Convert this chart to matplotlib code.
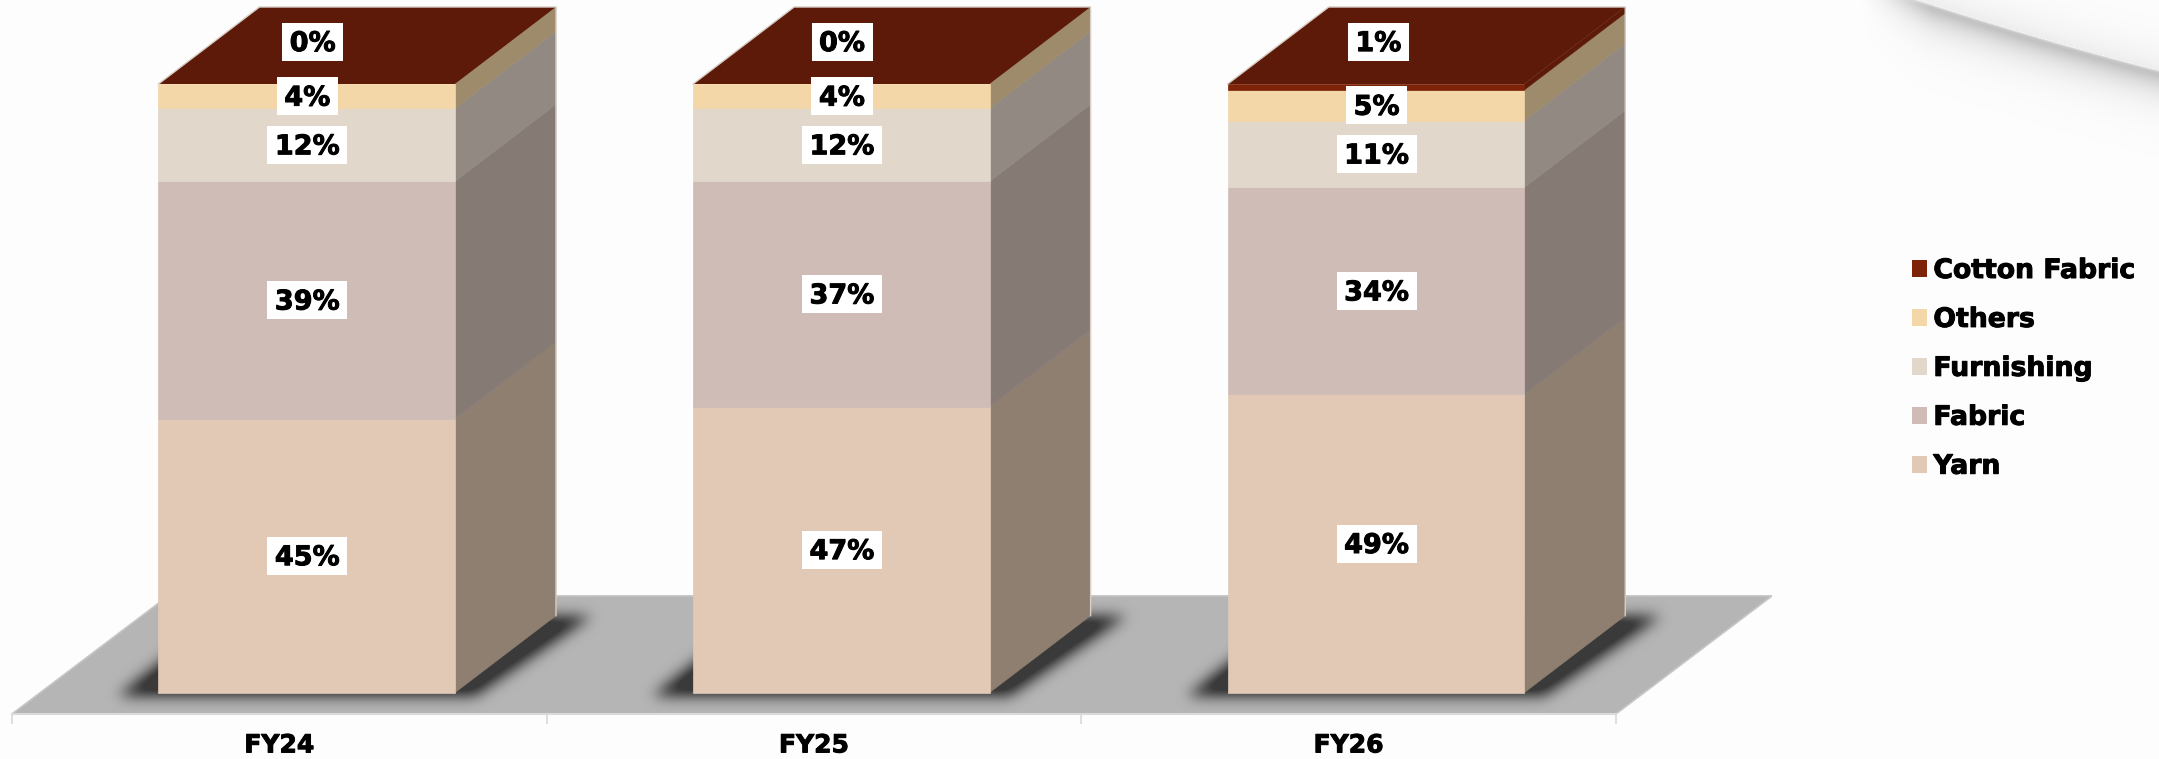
import matplotlib
matplotlib.use('Agg')
import matplotlib.pyplot as plt
import matplotlib.patheffects as pe
import numpy as np
from matplotlib.patches import Patch, Polygon, Rectangle
from matplotlib.path import Path

W, H = 2159, 759

years = ['FY24', 'FY25', 'FY26']
series = ['Yarn', 'Fabric', 'Furnishing', 'Others', 'Cotton Fabric']
yarn = [45, 47, 49]
fabric = [39, 37, 34]
furnishing = [12, 12, 11]
others = [4, 4, 5]
cotton = [0, 0, 1]
stack = np.array([yarn, fabric, furnishing, others, cotton], dtype=float)

front_colors = ['#E2C9B6', '#D0BCB6', '#E1D7CB', '#F3D7A8', '#7C2308']
side_colors = ['#8F7F70', '#857A74', '#928A82', '#9D8B6C', '#5E1A08']
top_color = '#5E1A08'

# box projection, in axis units
bar_width = 0.5546
bar_shift = 0.0512
depth_x = 0.189
depth_y = 12.65
floor_front = -3.5
floor_dx = 0.292
floor_dy = 19.4

plt.rcParams.update({
    'font.family': 'DejaVu Sans',
    'font.weight': 'bold',
    'font.size': 18,
})
heavy = [pe.withStroke(linewidth=0.7, foreground='black')]

fig = plt.figure(figsize=(W / 100, H / 100), dpi=100, facecolor='#FDFDFD')

# page background with the soft curved fold in the corner
Y, X = np.mgrid[0:H, 0:W]
fold = np.polyfit([1920, 1973, 2040, 2107, 2158], [0, 17, 38, 55, 70], 2)
d = Y - np.polyval(fold, X)
fade = np.clip((X - 1860) / 70, 0, 1)
shade = np.where(d > 0, 85 * np.exp(-d / 17) * (1 - np.exp(-d / 2.0)), 16 * np.exp(d / 22))
page = np.round(253 - shade * fade).clip(0, 255).astype(np.uint8)
fig.figimage(np.dstack([page] * 3), 0, 0, origin='upper', zorder=-5)

# axes run from the floor's front-left corner to its back-right corner
left, right = 12, 1772
ax = fig.add_axes([left / W, (H - 714) / H, (right - left) / W, (714 - 7) / H])
ax.patch.set_alpha(0)
ax.set_xlim(0, 3 + floor_dx)
ax.set_ylim(floor_front, 100 + depth_y)
px = ax.transData.inverted()
unit_x = px.transform((1, 0))[0] - px.transform((0, 0))[0]
unit_y = px.transform((0, 1))[1] - px.transform((0, 0))[1]

# floor
floor = [(0, floor_front), (3, floor_front),
         (3 + floor_dx, floor_front + floor_dy), (floor_dx, floor_front + floor_dy)]
ax.add_patch(Polygon(floor, closed=True, fc='#B5B5B5', ec='#C6C6C6', lw=1.2, zorder=1))

centers = np.arange(len(years)) + 0.5 + bar_shift

# contact shadows, blurred on a pixel grid
gy, gx = np.mgrid[0:707, 0:1760]
pts = np.column_stack([gx.ravel() + left + 0.5, H - (gy.ravel() + 7.5)])
mask = np.zeros(gx.shape)
for c in centers:
    x0, x1 = c - bar_width / 2, c + bar_width / 2
    corners = [(x0 - 40 * unit_x, -3 * unit_y), (x1 + 20 * unit_x, -3 * unit_y),
               (x1 + depth_x + 36 * unit_x, depth_y + 0 * unit_y),
               (x0 + depth_x - 40 * unit_x, depth_y + 0 * unit_y)]
    poly = Path(ax.transData.transform(corners))
    mask[poly.contains_points(pts).reshape(gx.shape)] = 1
fy = np.fft.fftfreq(mask.shape[0])[:, None]
fx = np.fft.rfftfreq(mask.shape[1])[None, :]
sigma = 7
gauss = np.exp(-2 * (np.pi * sigma) ** 2 * (fx ** 2 + fy ** 2))
blurred = np.fft.irfft2(np.fft.rfft2(mask) * gauss, s=mask.shape)
shadow = np.zeros(mask.shape + (4,))
shadow[..., :3] = 0x3A / 255
shadow[..., 3] = np.clip(blurred * 1.25, 0, 1)
ax.imshow(shadow, extent=(0, 3 + floor_dx, floor_front, 100 + depth_y), origin='upper',
          aspect='auto', interpolation='nearest', zorder=2)
ax.set_xlim(0, 3 + floor_dx)
ax.set_ylim(floor_front, 100 + depth_y)

# stacked boxes: front faces, side faces, lid
bottoms = np.vstack([np.zeros(len(years)), np.cumsum(stack, axis=0)[:-1]])
for s, name in enumerate(series):
    for i, c in enumerate(centers):
        if stack[s, i] == 0:
            continue
        xr = c + bar_width / 2
        lo, hi = bottoms[s, i], bottoms[s, i] + stack[s, i]
        ax.add_patch(Polygon([(xr, lo), (xr + depth_x, lo + depth_y),
                              (xr + depth_x, hi + depth_y), (xr, hi)],
                             closed=True, fc=side_colors[s], ec=side_colors[s], lw=0.4,
                             clip_on=False, zorder=3))
    ax.bar(centers, stack[s], bar_width, bottom=bottoms[s], color=front_colors[s],
           edgecolor=[front_colors[s] if v > 0 else 'none' for v in stack[s]], linewidth=0.5,
           clip_on=False, zorder=3.2)

tops = stack.sum(axis=0)
for c, top in zip(centers, tops):
    x0, x1 = c - bar_width / 2, c + bar_width / 2
    ax.add_patch(Polygon([(x0, top), (x1, top), (x1 + depth_x, top + depth_y),
                          (x0 + depth_x, top + depth_y)],
                         closed=True, fc=top_color, ec='none', clip_on=False, zorder=3.3))
    ax.plot([x0, x0 + depth_x, x1 + depth_x, x1 + depth_x], [top, top + depth_y, top + depth_y, depth_y],
            color='#D8CEC6', lw=1, clip_on=False, zorder=3.3)


def value_label(x, y, text):
    t = ax.annotate(text, (x, y), xytext=(0, -6.8), textcoords='offset points', ha='center',
                    va='baseline', fontsize=19.5, fontweight='bold', color='black', zorder=6,
                    annotation_clip=False, path_effects=heavy)
    width = t.get_window_extent(fig.canvas.get_renderer()).width + 15
    ax.add_patch(Rectangle((x - width * unit_x / 2, y - 19 * unit_y), width * unit_x, 38 * unit_y,
                           fc='white', ec='none', clip_on=False, zorder=5))


# labels sit mid-segment; the last series sits on the lid
lid_nudge = [6, 0.7, 2.5]
for s in range(len(series)):
    for i, c in enumerate(centers):
        if s == len(series) - 1:
            value_label(c + lid_nudge[i] * unit_x, tops[i] + depth_y * 0.55, f'{stack[s, i]:.0f}%')
        else:
            value_label(c + 0.7 * unit_x, bottoms[s, i] + stack[s, i] / 2, f'{stack[s, i]:.0f}%')

# category axis along the front edge of the floor
for side in ['top', 'left', 'right']:
    ax.spines[side].set_visible(False)
ax.spines['bottom'].set_bounds(0, 3)
ax.spines['bottom'].set_color('#DADADA')
ax.spines['bottom'].set_linewidth(1.5)
ax.set_yticks([])
ax.set_xticks(np.arange(len(years) + 1))
ax.set_xticklabels([])
ax.tick_params(axis='x', which='major', length=7, width=1.2, color='#DADADA')
ax.set_xticks(np.arange(len(years)) + 0.5, minor=True)
ax.set_xticklabels(years, minor=True, fontsize=18, fontweight='bold', color='black')
ax.tick_params(axis='x', which='minor', length=0, pad=14)
for tick_label in ax.get_xticklabels(minor=True):
    tick_label.set_path_effects(heavy)

handles = [Patch(fc=front_colors[s], ec='none', label=series[s]) for s in reversed(range(len(series)))]
legend = fig.legend(handles=handles, loc='upper left', bbox_to_anchor=(1911.5 / W, 1 - 258 / H), frameon=False,
                    fontsize=19.2, handlelength=0.57, handleheight=0.57, handletextpad=0.25, labelspacing=0.86,
                    borderpad=0, borderaxespad=0)
for legend_text in legend.get_texts():
    legend_text.set_path_effects(heavy)

fig.savefig('out.png', dpi=100, facecolor=fig.get_facecolor())
plt.close(fig)
